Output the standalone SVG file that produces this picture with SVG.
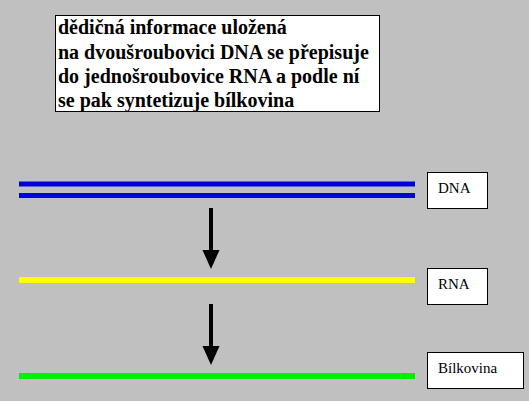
<svg xmlns="http://www.w3.org/2000/svg" width="529" height="401" viewBox="0 0 529 401">
<style>
.box{fill:#ffffff;stroke:#000000;stroke-width:1}
.title{font-family:"Liberation Serif","Times New Roman",serif;font-size:20px;font-weight:bold;fill:#000}
.lbl{font-family:"Liberation Serif","Times New Roman",serif;font-size:15px;fill:#000}
.arrow{stroke:#000;stroke-width:4;fill:none}
.head{fill:#000}
</style>
<rect x="0" y="0" width="529" height="401" fill="#c0c0c0"/>
<g id="caption">
<rect class="box" x="55.5" y="15.5" width="324" height="96"/>
<text class="title" x="58" y="34">dědičná informace uložená</text>
<text class="title" x="58" y="58.5">na dvoušroubovici DNA se přepisuje</text>
<text class="title" x="58" y="82.5">do jednošroubovice RNA a podle ní</text>
<text class="title" x="58" y="106.5">se pak syntetizuje bílkovina</text>
</g>
<g id="dna">
<rect x="19" y="181.5" width="396" height="5" fill="#0000dd"/>
<rect x="19" y="193" width="396" height="5" fill="#0000dd"/>
<rect class="box" x="427.5" y="172.5" width="60" height="36"/>
<text class="lbl" x="438" y="193">DNA</text>
</g>
<g id="rna">
<rect x="19" y="277" width="396" height="6" fill="#ffff00"/>
<rect class="box" x="427.5" y="268.5" width="60" height="36"/>
<text class="lbl" x="438" y="289">RNA</text>
</g>
<g id="protein">
<rect x="19" y="373" width="396" height="6" fill="#00ee00"/>
<rect class="box" x="427.5" y="352.5" width="96" height="36"/>
<text class="lbl" x="438" y="373">Bílkovina</text>
</g>
<g id="connectors">
<line class="arrow" x1="211" y1="208" x2="211" y2="252"/>
<polygon class="head" points="202.5,250 219.5,250 211,269"/>
<line class="arrow" x1="211" y1="304" x2="211" y2="348"/>
<polygon class="head" points="202.5,346 219.5,346 211,365"/>
</g>
</svg>
